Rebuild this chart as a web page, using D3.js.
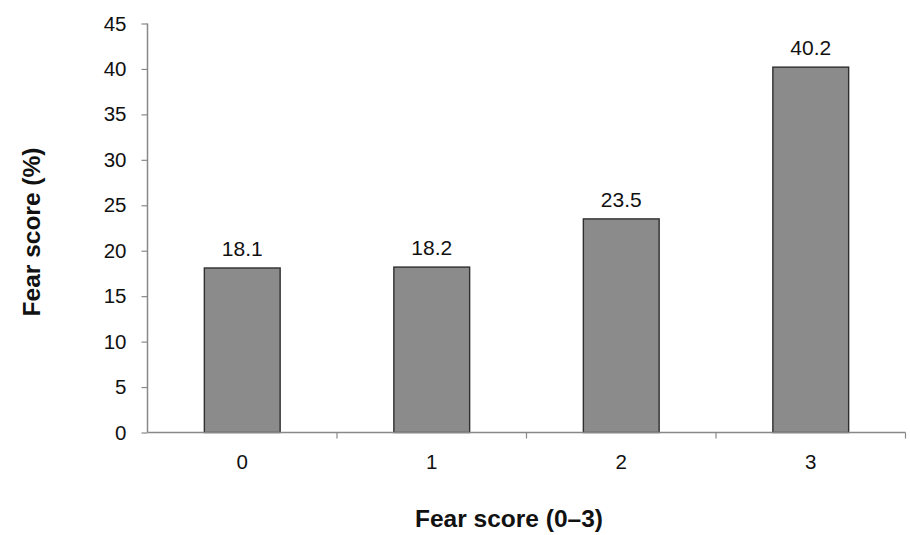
<!DOCTYPE html>
<html>
<head>
<meta charset="utf-8">
<script src="https://cdn.jsdelivr.net/npm/d3@7"></script>
<style>
  html, body { margin: 0; padding: 0; background: #fff; }
  svg { display: block; font-family: "Liberation Sans", Arial, sans-serif; }
</style>
</head>
<body>
<div id="chart"></div>
<script>
const categories = ["0", "1", "2", "3"];
const values = [18.1, 18.2, 23.5, 40.2];
const valueLabels = ["18.1", "18.2", "23.5", "40.2"];
const yTicks = [0, 5, 10, 15, 20, 25, 30, 35, 40, 45];
const xTitle = "Fear score (0–3)";
const yTitle = "Fear score (%)";

const W = 910, H = 535;
const mLeft = 147.5, mRight = 905.5, mTop = 23.5, mBottom = 432.5;

const svg = d3.select("#chart").append("svg").attr("width", W).attr("height", H);

const x = d3.scaleBand().domain(categories).range([mLeft, mRight]).paddingInner(0.6).paddingOuter(0.3);
const y = d3.scaleLinear().domain([0, 45]).range([mBottom, mTop]);

// bars
svg.append("g").selectAll("rect").data(values).join("rect")
  .attr("x", (d, i) => x(categories[i]))
  .attr("y", d => y(d))
  .attr("width", x.bandwidth())
  .attr("height", d => y(0) - y(d))
  .attr("fill", "#8b8b8b")
  .attr("stroke", "#2f2f2f")
  .attr("stroke-width", 1.4);

// value labels
svg.append("g").selectAll("text").data(values).join("text")
  .attr("x", (d, i) => x(categories[i]) + x.bandwidth() / 2)
  .attr("y", d => y(d) - 12)
  .attr("text-anchor", "middle")
  .attr("font-size", 21)
  .attr("fill", "#111")
  .text((d, i) => valueLabels[i]);

// y axis
const yAxis = svg.append("g").attr("transform", `translate(${mLeft},0)`)
  .call(d3.axisLeft(y).tickValues(yTicks).tickSize(6).tickPadding(15).tickFormat(d3.format("d")));
yAxis.select(".domain").attr("d", `M0,${mTop}V${mBottom}`).attr("stroke", "#888").attr("stroke-width", 1.5);
yAxis.selectAll(".tick line").attr("stroke", "#888").attr("stroke-width", 1.2);
yAxis.selectAll(".tick text").attr("font-size", 20.5).attr("fill", "#111")
  .attr("font-family", "'Liberation Sans', Arial, sans-serif");

// x axis
const xAxis = svg.append("g").attr("transform", `translate(0,${mBottom})`)
  .call(d3.axisBottom(x).tickSize(0).tickPadding(22));
xAxis.select(".domain").attr("d", `M${mLeft},0H${mRight}`).attr("stroke", "#888").attr("stroke-width", 1.5);
xAxis.selectAll(".tick text").attr("font-size", 20.5).attr("fill", "#111")
  .attr("font-family", "'Liberation Sans', Arial, sans-serif");
// category boundary ticks
xAxis.append("g").selectAll("line").data(categories).join("line")
  .attr("x1", d => x(d) + x.bandwidth() / 2 + x.step() / 2)
  .attr("x2", d => x(d) + x.bandwidth() / 2 + x.step() / 2)
  .attr("y1", 0).attr("y2", 6)
  .attr("stroke", "#888").attr("stroke-width", 1.2);

// titles
svg.append("text")
  .attr("x", 509).attr("y", 527)
  .attr("text-anchor", "middle")
  .attr("font-size", 24.5).attr("font-weight", "bold").attr("fill", "#111")
  .text(xTitle);
svg.append("text")
  .attr("transform", "translate(40,232) rotate(-90)")
  .attr("text-anchor", "middle")
  .attr("font-size", 24.5).attr("font-weight", "bold").attr("fill", "#111")
  .text(yTitle);
</script>
</body>
</html>
